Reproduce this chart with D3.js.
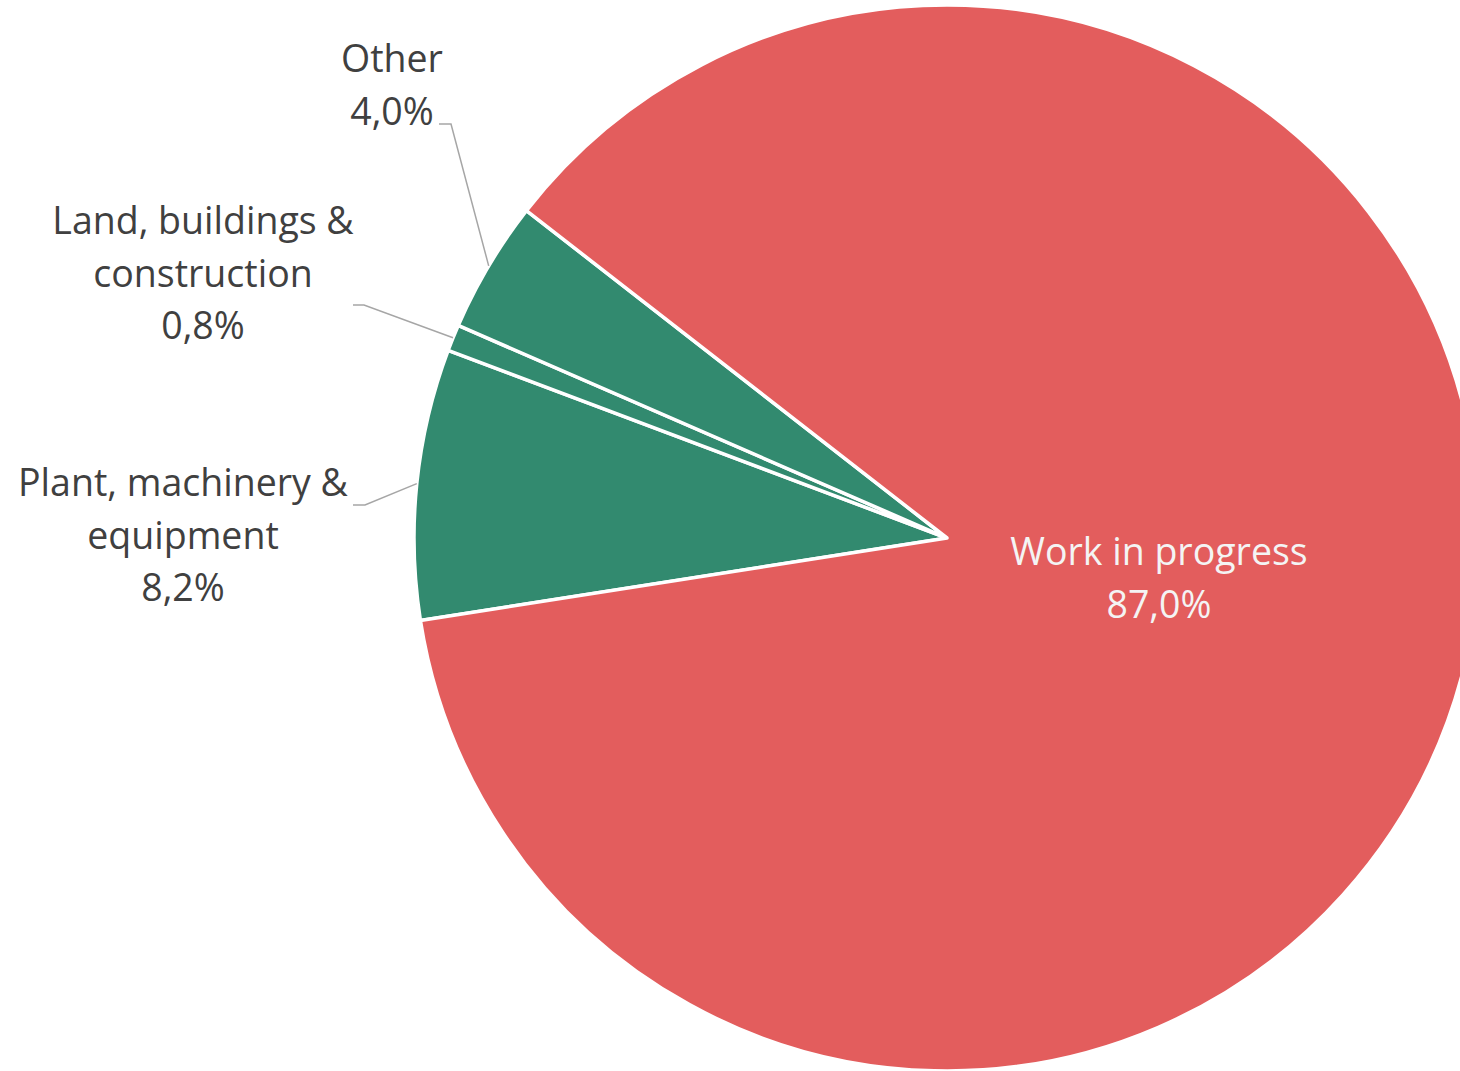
<!DOCTYPE html>
<html>
<head>
<meta charset="utf-8">
<script src="https://cdn.jsdelivr.net/npm/d3@7"></script>
<style>
  html, body { margin: 0; padding: 0; background: #ffffff; }
  svg { display: block; }
</style>
</head>
<body>
<svg id="chart" width="1460" height="1071"></svg>
<script>
// ---- data ----
const categories = ["Plant, machinery & equipment", "Land, buildings & construction", "Other", "Work in progress"];
const labelLines = [["Plant, machinery &", "equipment"], ["Land, buildings &", "construction"], ["Other"], ["Work in progress"]];
const values = [8.2, 0.8, 4.0, 87.0];
const valueLabels = ["8,2%", "0,8%", "4,0%", "87,0%"];

// ---- layout (not data) ----
const W = 1460, H = 1071;
const cx = 947, cy = 538, R = 533;
const colors = ["#328A6F", "#328A6F", "#328A6F", "#E35D5D"];
const fontSize = 37.5, lineH = 52.5;
// label anchor: center x, baseline of first line; elbow: horizontal stub end points
const labelLayout = [
  { x: 183, y: 496, inside: false, stub: [353, 365, 505] },
  { x: 203, y: 234, inside: false, stub: [353, 364, 305] },
  { x: 392, y: 72,  inside: false, stub: [439, 451, 124] },
  { x: 1159, y: 565, inside: true }
];

const svg = d3.select("#chart");
const g = svg.append("g").attr("transform", `translate(${cx},${cy})`);

const startA = 261.1 * Math.PI / 180;
const pie = d3.pie().sort(null).value(d => d).startAngle(startA).endAngle(startA + 2 * Math.PI);
const arcs = pie(values);
const arc = d3.arc().innerRadius(0).outerRadius(R);

g.selectAll("path.slice")
  .data(arcs)
  .join("path")
  .attr("class", "slice")
  .attr("d", arc)
  .attr("fill", (d, i) => colors[i])
  .attr("stroke", "#ffffff")
  .attr("stroke-width", 3.5)
  .attr("stroke-linejoin", "round");

// leader lines
arcs.forEach((d, i) => {
  const L = labelLayout[i];
  if (L.inside) return;
  const mid = (d.startAngle + d.endAngle) / 2;
  const ex = cx + R * Math.sin(mid), ey = cy - R * Math.cos(mid);
  svg.append("polyline")
    .attr("points", `${L.stub[0]},${L.stub[2]} ${L.stub[1]},${L.stub[2]} ${ex},${ey}`)
    .attr("fill", "none")
    .attr("stroke", "#A6A6A6")
    .attr("stroke-width", 1.5);
});

// labels
labelLayout.forEach((L, i) => {
  const lines = labelLines[i].concat([valueLabels[i]]);
  const t = svg.append("text")
    .attr("text-anchor", "middle")
    .attr("font-family", "'Open Sans', 'Noto Sans', sans-serif")
    .attr("font-size", fontSize)
    .attr("fill", L.inside ? "#F4F4F4" : "#404040");
  lines.forEach((s, k) => {
    t.append("tspan").attr("x", L.x).attr("y", L.y + k * lineH).text(s);
  });
});
</script>
</body>
</html>
